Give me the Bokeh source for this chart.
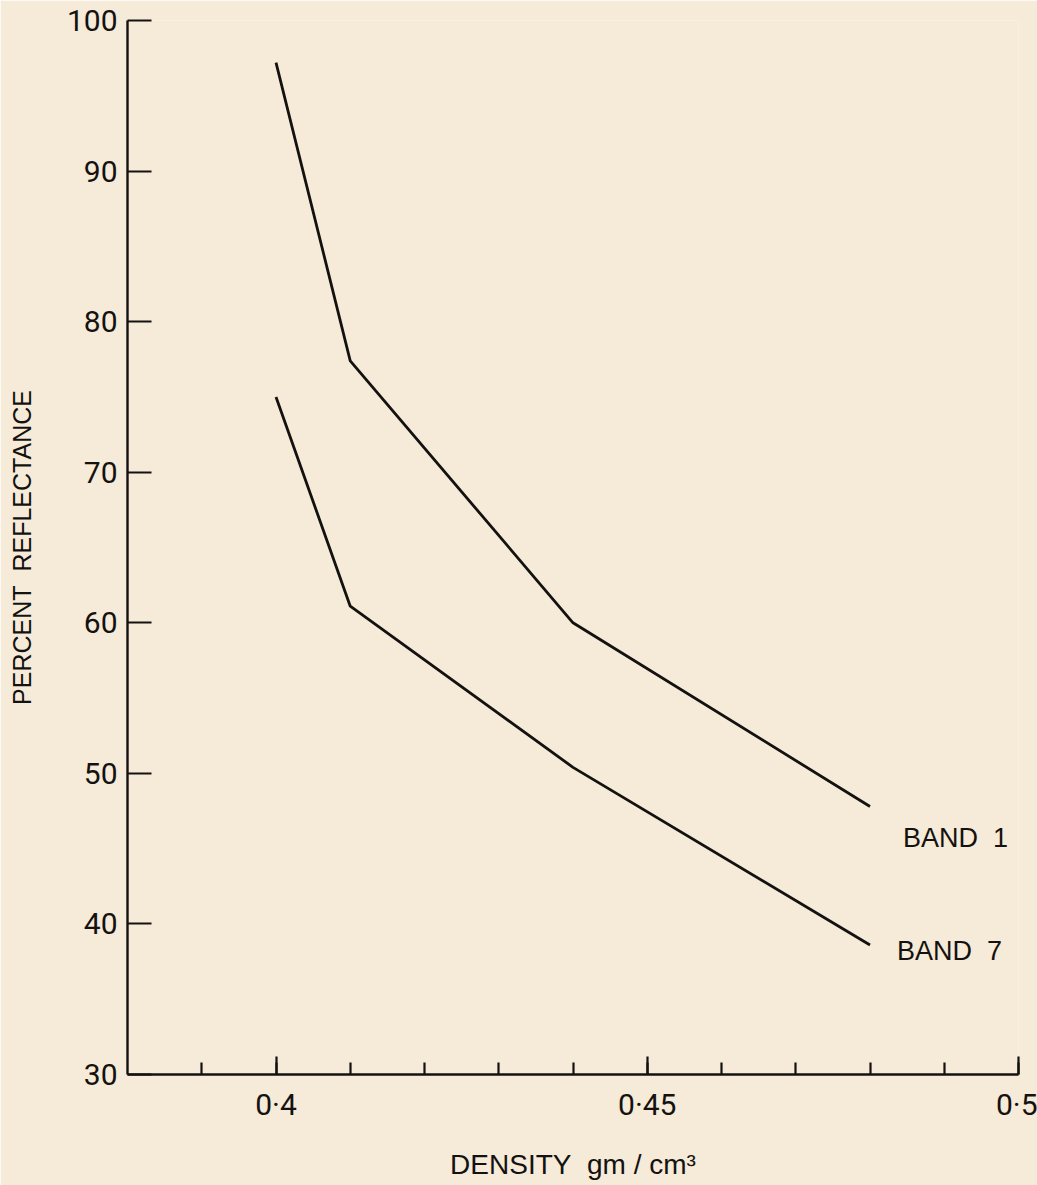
from bokeh.plotting import figure
from bokeh.models import FixedTicker, CustomJSTickFormatter, Range1d, ColumnDataSource
from bokeh.core.properties import value
from bokeh.embed import file_html
from bokeh.resources import INLINE

# ---- data ----
density = [0.40, 0.41, 0.44, 0.48]
band1 = [97.2, 77.4, 60.0, 47.8]
band7 = [75.0, 61.1, 50.4, 38.6]
series_names = ["BAND\u00a0\u00a01", "BAND\u00a0\u00a07"]
x_major_ticks = [0.40, 0.45, 0.50]
x_minor_ticks = [0.39, 0.40, 0.41, 0.42, 0.43, 0.44, 0.45, 0.46, 0.47, 0.48, 0.49, 0.50]
y_ticks = [30, 40, 50, 60, 70, 80, 90, 100]

# ---- styling ----
BG = "#f6ead8"
INK = "#141210"
label_x_off = [33, 27]
label_y_off = [32, 6]

p = figure(width=1037, height=1185, output_backend="svg", toolbar_location=None,
           x_range=Range1d(0.38, 0.50), y_range=Range1d(30, 100),
           frame_width=891, frame_height=1054,
           min_border_left=127, min_border_right=19, min_border_top=20, min_border_bottom=111)
p.background_fill_color = BG
p.border_fill_color = BG
p.outline_line_color = None
p.xgrid.visible = False
p.ygrid.visible = False

for ys, name, xo, yo in zip([band1, band7], series_names, label_x_off, label_y_off):
    src = ColumnDataSource(dict(x=density, y=ys))
    p.line("x", "y", source=src, line_color=INK, line_width=2.8)
    p.text(x=[density[-1]], y=[ys[-1]], text=[name], x_offset=xo, y_offset=yo,
           text_font=value("Liberation Sans"), text_font_size="27px",
           text_color=INK, text_baseline="middle", text_align="left")

# x axis
xa = p.xaxis[0]
xa.ticker = FixedTicker(ticks=x_major_ticks, minor_ticks=x_minor_ticks)
xa.formatter = CustomJSTickFormatter(code="""
    let s = tick.toFixed(2);
    if (s.endsWith('0')) s = s.slice(0, -1);
    return s.replace('.', '\u00b7');
""")
xa.major_tick_in = 18
xa.major_tick_out = 0
xa.minor_tick_in = 12
xa.minor_tick_out = 0
xa.axis_line_color = INK
xa.axis_line_width = 2.4
xa.major_tick_line_color = INK
xa.major_tick_line_width = 2.2
xa.minor_tick_line_color = INK
xa.minor_tick_line_width = 2.2
xa.major_label_text_font = "Roboto"
xa.major_label_text_font_size = "30px"
xa.major_label_text_color = INK
xa.major_label_standoff = 12
xa.axis_label = "DENSITY\u00a0\u00a0gm / cm\u00b3"
xa.axis_label_text_font = "Liberation Sans"
xa.axis_label_text_font_style = "normal"
xa.axis_label_text_font_size = "28px"
xa.axis_label_text_color = INK
xa.axis_label_standoff = 24

# y axis
ya = p.yaxis[0]
ya.ticker = FixedTicker(ticks=y_ticks, minor_ticks=[])
ya.major_tick_in = 24
ya.major_tick_out = 0
ya.axis_line_color = INK
ya.axis_line_width = 2.4
ya.major_tick_line_color = INK
ya.major_tick_line_width = 2.2
ya.major_label_text_font = "Roboto"
ya.major_label_text_font_size = "30px"
ya.major_label_text_color = INK
ya.major_label_standoff = 10
ya.axis_label = "PERCENT\u00a0\u00a0REFLECTANCE"
ya.axis_label_text_font = "Liberation Sans"
ya.axis_label_text_font_style = "normal"
ya.axis_label_text_font_size = "25px"
ya.axis_label_text_color = INK
ya.axis_label_standoff = 28

open("out.html", "w").write(file_html(p, INLINE))
